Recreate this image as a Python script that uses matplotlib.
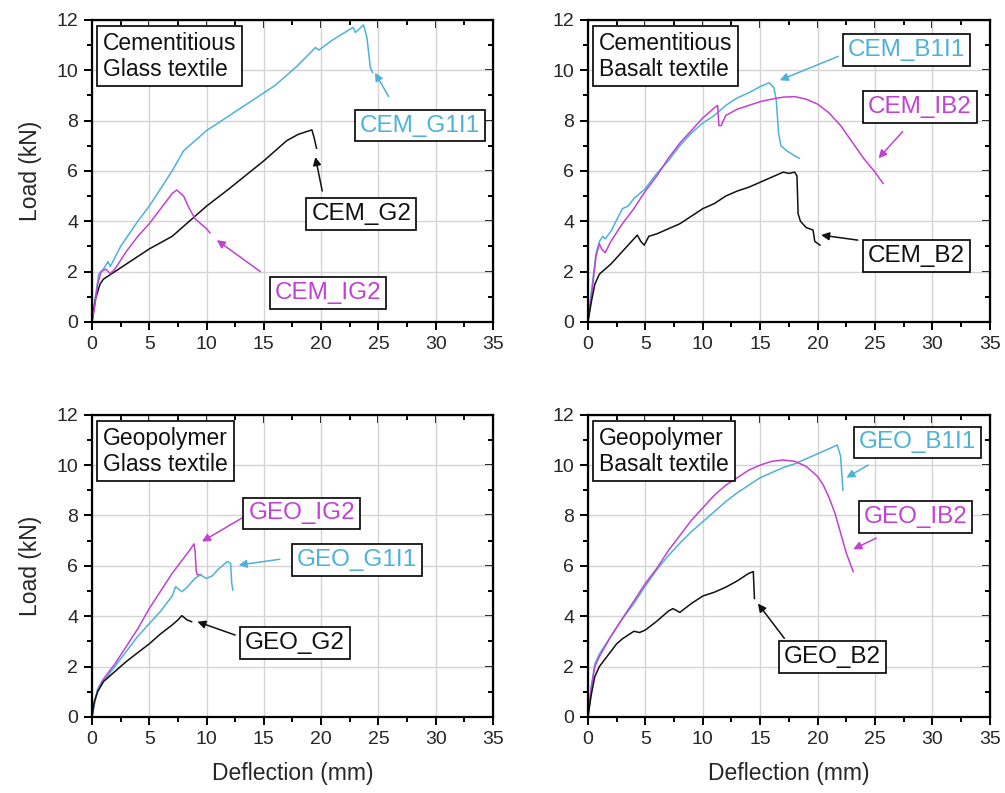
import matplotlib
matplotlib.use("Agg")
import matplotlib.pyplot as plt
from matplotlib.ticker import MultipleLocator

plt.rcParams['font.family'] = ['Liberation Sans', 'DejaVu Sans']

CYAN = '#4cb2da'
MAGENTA = '#c041d3'
BLACK = '#111111'

# ---- Cementitious / glass textile ----
cem_g1i1_x = [0, 0.3, 0.6, 1.0, 1.4, 1.6, 2.5, 4, 5, 6, 7, 8, 9, 10, 12, 14, 15, 16, 17, 18, 19.5, 19.8, 21, 22.8, 23.0, 23.7, 24.0, 24.3, 24.5]
cem_g1i1_y = [0, 1.0, 1.9, 2.1, 2.4, 2.2, 3.0, 4.0, 4.6, 5.3, 6.0, 6.8, 7.2, 7.6, 8.2, 8.8, 9.1, 9.4, 9.8, 10.2, 10.9, 10.8, 11.2, 11.7, 11.5, 11.8, 11.3, 10.1, 9.9]
cem_g2_x = [0, 0.3, 0.7, 1.0, 2, 3, 5, 7, 8, 10, 12, 15, 17, 18, 19.2, 19.4, 19.6]
cem_g2_y = [0, 0.9, 1.5, 1.7, 2.0, 2.3, 2.9, 3.4, 3.8, 4.6, 5.3, 6.4, 7.2, 7.45, 7.63, 7.3, 6.9]
cem_ig2_x = [0, 0.2, 0.5, 0.8, 1.2, 1.6, 2, 3, 4, 5, 6, 7, 7.4, 8, 8.5, 9, 10, 10.3]
cem_ig2_y = [0, 0.5, 1.5, 2.0, 2.1, 1.92, 2.1, 2.8, 3.4, 3.9, 4.5, 5.1, 5.24, 5.0, 4.5, 4.1, 3.7, 3.54]

# ---- Cementitious / basalt textile ----
cem_b1i1_x = [0, 0.3, 0.7, 1.0, 1.3, 1.5, 2, 3, 3.5, 4, 5, 6, 7, 8, 9, 10, 11, 12, 13, 14, 15, 15.8, 16.2, 16.4, 16.6, 16.8, 17.3, 18.0, 18.4]
cem_b1i1_y = [0, 1.2, 2.7, 3.2, 3.4, 3.3, 3.6, 4.5, 4.6, 4.9, 5.3, 5.9, 6.4, 7.0, 7.5, 7.9, 8.2, 8.6, 8.9, 9.1, 9.35, 9.5, 9.3, 8.8, 7.5, 7.0, 6.8, 6.6, 6.5]
cem_ib2_x = [0, 0.3, 0.7, 1.0, 1.2, 1.5, 2, 3, 4, 5, 6, 7, 8, 9, 10, 11, 11.3, 11.4, 11.6, 12, 13, 14, 15, 16, 17, 18, 19, 20, 21, 22, 23, 24, 25, 25.7]
cem_ib2_y = [0, 1.0, 2.6, 3.1, 2.9, 2.75, 3.2, 3.9, 4.5, 5.2, 5.8, 6.5, 7.1, 7.6, 8.1, 8.5, 8.6, 7.8, 7.8, 8.2, 8.45, 8.6, 8.75, 8.85, 8.93, 8.95, 8.85, 8.65, 8.3, 7.8, 7.15, 6.5, 5.95, 5.5]
cem_b2_x = [0, 0.3, 0.6, 1, 2, 3, 4, 4.3, 4.6, 4.9, 5.3, 6, 7, 8, 9, 10, 11, 12, 13, 14, 15, 16, 17, 17.5, 18, 18.2, 18.3, 18.5, 19, 19.6, 19.75, 20.2]
cem_b2_y = [0, 0.8, 1.5, 1.9, 2.3, 2.8, 3.3, 3.45, 3.2, 3.05, 3.4, 3.5, 3.7, 3.9, 4.2, 4.5, 4.7, 5.0, 5.2, 5.35, 5.55, 5.75, 5.95, 5.9, 5.95, 5.8, 4.3, 4.0, 3.75, 3.65, 3.2, 3.05]

# ---- Geopolymer / glass textile ----
geo_ig2_x = [0, 0.2, 0.5, 1, 2, 3, 4, 5, 6, 7, 8, 8.5, 8.9, 9.0, 9.1, 9.2, 9.5]
geo_ig2_y = [0, 0.5, 1.1, 1.5, 2.1, 2.8, 3.5, 4.3, 5.0, 5.7, 6.3, 6.6, 6.87, 6.6, 5.8, 5.64, 5.65]
geo_g1i1_x = [0, 0.3, 0.5, 1, 2, 3, 4, 5, 6, 7, 7.3, 7.85, 8.3, 9, 9.45, 10, 10.5, 11, 11.8, 12.1, 12.2, 12.3]
geo_g1i1_y = [0, 0.7, 1.1, 1.4, 2.0, 2.6, 3.2, 3.7, 4.2, 4.8, 5.17, 4.97, 5.15, 5.5, 5.64, 5.5, 5.6, 5.85, 6.17, 6.1, 5.3, 5.04]
geo_g2_x = [0, 0.2, 0.5, 1, 2, 3, 4, 5, 6, 7, 7.5, 7.85, 8.3, 8.7]
geo_g2_y = [0, 0.6, 1.0, 1.4, 1.8, 2.2, 2.55, 2.9, 3.3, 3.65, 3.85, 4.02, 3.85, 3.78]

# ---- Geopolymer / basalt textile ----
geo_b1i1_x = [0, 0.3, 0.6, 1, 2, 3, 4, 5, 6, 7, 8, 9, 10, 11, 12, 13, 14, 15, 16, 17, 18, 19, 20, 21, 21.7, 22.0, 22.2]
geo_b1i1_y = [0, 1.2, 2.1, 2.5, 3.2, 3.9, 4.5, 5.2, 5.85, 6.4, 6.9, 7.35, 7.75, 8.15, 8.55, 8.9, 9.2, 9.5, 9.7, 9.9, 10.05, 10.25, 10.45, 10.65, 10.8, 10.35, 9.0]
geo_ib2_x = [0, 0.3, 0.6, 1, 2, 3, 4, 5, 6, 7, 8, 9, 10, 11, 12, 13, 14, 15, 16, 17, 18, 19, 20, 20.5, 21, 21.5, 22, 22.5, 23.1]
geo_ib2_y = [0, 1.2, 2.0, 2.4, 3.2, 3.9, 4.6, 5.3, 5.9, 6.6, 7.2, 7.8, 8.3, 8.8, 9.2, 9.5, 9.8, 10.0, 10.15, 10.2, 10.15, 9.95, 9.55, 9.2, 8.7, 8.1, 7.3, 6.5, 5.77]
geo_b2_x = [0, 0.3, 0.6, 1, 2, 2.5, 3, 4, 4.5, 5, 6, 7, 7.4, 8, 9, 10, 11, 12, 13, 14, 14.4, 14.45, 14.5]
geo_b2_y = [0, 0.9, 1.6, 2.0, 2.6, 2.9, 3.1, 3.4, 3.35, 3.45, 3.8, 4.2, 4.3, 4.15, 4.5, 4.8, 4.95, 5.15, 5.4, 5.7, 5.77, 5.2, 4.7]

panels = [
    {
        'title': 'Cementitious\nGlass textile',
        'series': [
            (cem_g1i1_x, cem_g1i1_y, CYAN, 'CEM_G1I1', (28.6, 7.8), (25.9, 8.95), (24.7, 9.9)),
            (cem_g2_x, cem_g2_y, BLACK, 'CEM_G2', (23.5, 4.3), (20.1, 5.2), (19.5, 6.55)),
            (cem_ig2_x, cem_ig2_y, MAGENTA, 'CEM_IG2', (20.6, 1.15), (14.7, 2.0), (10.9, 3.25)),
        ],
    },
    {
        'title': 'Cementitious\nBasalt textile',
        'series': [
            (cem_b1i1_x, cem_b1i1_y, CYAN, 'CEM_B1I1', (27.7, 10.8), (21.8, 10.55), (16.7, 9.6)),
            (cem_ib2_x, cem_ib2_y, MAGENTA, 'CEM_IB2', (28.9, 8.54), (27.4, 7.56), (25.3, 6.5)),
            (cem_b2_x, cem_b2_y, BLACK, 'CEM_B2', (28.6, 2.63), (23.5, 3.25), (20.3, 3.45)),
        ],
    },
    {
        'title': 'Geopolymer\nGlass textile',
        'series': [
            (geo_ig2_x, geo_ig2_y, MAGENTA, 'GEO_IG2', (18.3, 8.08), (13.1, 7.9), (9.6, 6.96)),
            (geo_g1i1_x, geo_g1i1_y, CYAN, 'GEO_G1I1', (23.1, 6.22), (16.4, 6.26), (12.8, 6.03)),
            (geo_g2_x, geo_g2_y, BLACK, 'GEO_G2', (17.7, 2.94), (12.5, 3.25), (9.2, 3.78)),
        ],
    },
    {
        'title': 'Geopolymer\nBasalt textile',
        'series': [
            (geo_b1i1_x, geo_b1i1_y, CYAN, 'GEO_B1I1', (28.7, 10.9), (24.4, 10.0), (22.5, 9.5)),
            (geo_ib2_x, geo_ib2_y, MAGENTA, 'GEO_IB2', (28.5, 7.94), (25.1, 7.1), (23.1, 6.66)),
            (geo_b2_x, geo_b2_y, BLACK, 'GEO_B2', (21.3, 2.37), (17.1, 3.12), (14.8, 4.5)),
        ],
    },
]

fig = plt.figure(figsize=(10.05, 7.93), dpi=100)
rects = [
    [0.0915, 0.594, 0.399, 0.381],
    [0.585, 0.594, 0.400, 0.381],
    [0.0915, 0.096, 0.399, 0.381],
    [0.585, 0.096, 0.400, 0.381],
]

for i, (panel, rect) in enumerate(zip(panels, rects)):
    ax = fig.add_axes(rect)
    ax.set_xlim(0, 35)
    ax.set_ylim(0, 12)
    ax.xaxis.set_major_locator(MultipleLocator(5))
    ax.xaxis.set_minor_locator(MultipleLocator(2.5))
    ax.yaxis.set_major_locator(MultipleLocator(2))
    ax.yaxis.set_minor_locator(MultipleLocator(1))
    ax.grid(True, which='major', color='#d4d4d4', lw=1.0)
    ax.set_axisbelow(True)
    for sp in ax.spines.values():
        sp.set_linewidth(1.6)
    ax.tick_params(which='both', direction='out', top=False, right=False,
                   labelsize=14, labelcolor='#262626', width=1.4, pad=4)
    ax.tick_params(which='major', length=6)
    ax.tick_params(which='minor', length=3.5)
    # mirrored inward ticks on top/right
    sec_x = ax.secondary_xaxis('top')
    sec_x.xaxis.set_major_locator(MultipleLocator(5))
    sec_x.xaxis.set_minor_locator(MultipleLocator(2.5))
    sec_x.tick_params(which='both', direction='in', labeltop=False, width=1.4)
    sec_x.tick_params(which='major', length=6)
    sec_x.tick_params(which='minor', length=3.5)
    sec_y = ax.secondary_yaxis('right')
    sec_y.yaxis.set_major_locator(MultipleLocator(2))
    sec_y.yaxis.set_minor_locator(MultipleLocator(1))
    sec_y.tick_params(which='both', direction='in', labelright=False, width=1.4)
    sec_y.tick_params(which='major', length=6)
    sec_y.tick_params(which='minor', length=3.5)

    for xs, ys, color, label, lpos, tail, tip in panel['series']:
        ax.plot(xs, ys, color=color, lw=1.1)
        ax.annotate('', xy=tip, xytext=tail,
                    arrowprops=dict(arrowstyle='-|>', color=color, lw=1.1,
                                    mutation_scale=12, shrinkA=0, shrinkB=0))
        ax.text(lpos[0], lpos[1], label, color=color, fontsize=17.5,
                ha='center', va='center',
                bbox=dict(boxstyle='square,pad=0.2', fc='white', ec='black', lw=1.2))

    ax.text(0.028, 0.96, panel['title'], transform=ax.transAxes, fontsize=16.5,
            color='#111111', ha='left', va='top', linespacing=1.15,
            bbox=dict(boxstyle='square,pad=0.25', fc='white', ec='black', lw=1.2))

    if i % 2 == 0:
        ax.set_ylabel('Load (kN)', fontsize=16.5, color='#262626', labelpad=10)
    if i >= 2:
        ax.set_xlabel('Deflection (mm)', fontsize=16.5, color='#262626', labelpad=10)

fig.savefig('out.png', dpi=100)
